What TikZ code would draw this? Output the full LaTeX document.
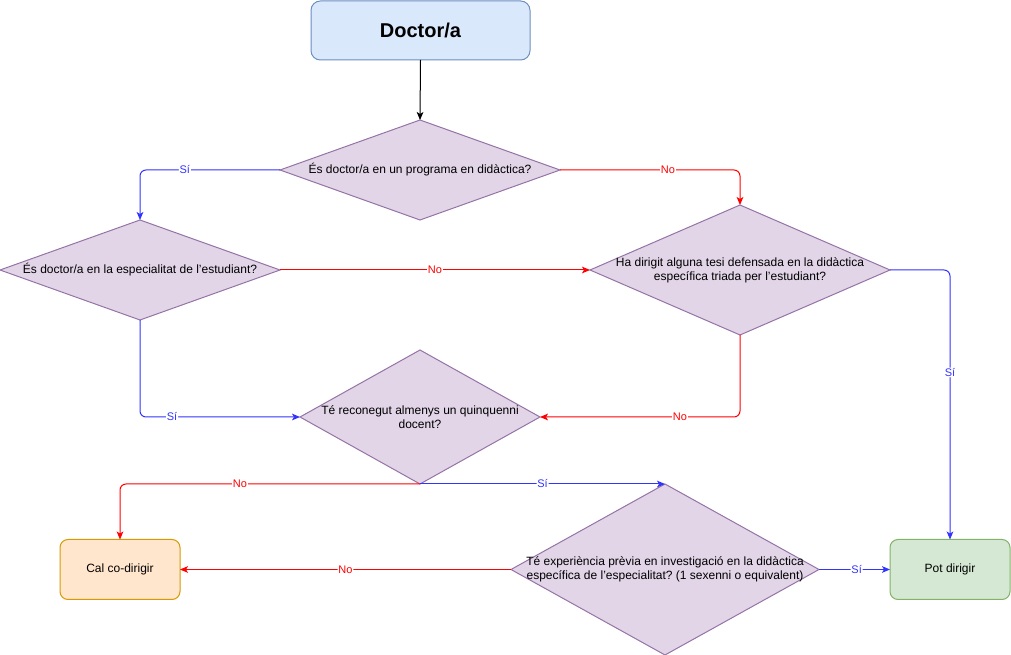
\documentclass[tikz,border=0pt]{standalone}
\usepackage{fontspec}
\setmainfont{Liberation Sans}
\usetikzlibrary{shapes.geometric,arrows.meta}
\definecolor{dfill}{HTML}{E1D5E7}
\definecolor{dline}{HTML}{9673A6}
\definecolor{bfill}{HTML}{DAE8FC}
\definecolor{bline}{HTML}{6C8EBF}
\definecolor{gfill}{HTML}{D5E8D4}
\definecolor{gline}{HTML}{82B366}
\definecolor{ofill}{HTML}{FFE6CC}
\definecolor{oline}{HTML}{D79B00}
\definecolor{cblue}{HTML}{3333FF}
\definecolor{cred}{HTML}{FF0000}
\frenchspacing
\begin{document}
\begin{tikzpicture}[x=0.75pt,y=-0.75pt,
  decision/.style={diamond, draw=dline, fill=dfill, inner sep=0pt, outer sep=0pt, line width=0.75pt},
  dtext/.style={font=\fontsize{9}{10.5}\selectfont, align=center, inner sep=0pt},
  endbox/.style={rectangle, rounded corners=6pt, minimum width=90pt, minimum height=45pt, inner sep=0pt, outer sep=0pt, line width=0.75pt, font=\fontsize{9}{10.5}\selectfont},
  conn/.style={line width=0.75pt, rounded corners=4.5pt, -{Stealth[length=6pt,width=5pt,inset=1.5pt]}},
  yes/.style={conn, draw=cblue},
  no/.style={conn, draw=cred},
  elabel/.style={fill=white, inner sep=0.6pt, font=\fontsize{8.25}{9.6}\selectfont},
  ylab/.style={elabel, text=cblue},
  nlab/.style={elabel, text=cred}]
\useasboundingbox (0,0) rectangle (1011,655);

\node[rectangle, rounded corners=7pt, draw=bline, fill=bfill, line width=0.75pt, minimum width=164.25pt, minimum height=44.25pt, inner sep=0pt, outer sep=0pt, font=\fontsize{15}{18}\selectfont\bfseries] (start) at (420.5,30.5) {Doctor/a};

\node[decision, minimum width=210pt, minimum height=75pt] (d1) at (420,170) {};
\node[dtext] (t1) at (d1) {És doctor/a en un programa en didàctica?};

\node[decision, minimum width=210pt, minimum height=75pt] (d2) at (140,270) {};
\node[dtext] (t2) at (d2) {És doctor/a en la especialitat de l'estudiant?};

\node[decision, minimum width=225pt, minimum height=97.5pt] (d3) at (740,270) {};
\node[dtext] (t3) at (d3) {Ha dirigit alguna tesi defensada en la didàctica\\específica triada per l'estudiant?};

\node[decision, minimum width=180pt, minimum height=100.5pt] (d4) at (420,417) {};
\node[dtext] (t4) at (d4) {Té reconegut almenys un quinquenni\\docent?};

\node[decision, minimum width=231pt, minimum height=128.25pt] (d5) at (665,569.5) {};
\node[dtext] (t5) at (d5) {Té experiència prèvia en investigació en la didàctica\\específica de l'especialitat? (1 sexenni o equivalent)};

\node[endbox, draw=oline, fill=ofill] (cal) at (120,569.5) {Cal co-dirigir};
\node[endbox, draw=gline, fill=gfill] (pot) at (950,569.5) {Pot dirigir};

\draw[conn, draw=black] (start.south) -- (d1.north);

\draw[yes] (d1.west) -| node[ylab, pos=0.34] {Sí} (d2.north);
\draw[no] (d1.east) -| node[nlab, pos=0.3] {No} (d3.north);
\draw[no] (d2.east) -- node[nlab, pos=0.5] {No} (d3.west);
\draw[yes] (d2.south) |- node[ylab, pos=0.6] {Sí} (d4.west);
\draw[no] (d3.south) |- node[nlab, pos=0.65] {No} (d4.east);
\draw[yes] (d3.east) -| node[ylab, pos=0.69] {Sí} (pot.north);
\draw[no] (d4.south) -| node[nlab, pos=0.3] {No} (cal.north);
\draw[yes] (d4.south) -- node[ylab, pos=0.5] {Sí} (d5.north);
\draw[no] (d5.west) -- node[nlab, pos=0.5] {No} (cal.east);
\draw[yes] (d5.east) -- node[ylab, pos=0.53] {Sí} (pot.west);
\end{tikzpicture}
\end{document}
